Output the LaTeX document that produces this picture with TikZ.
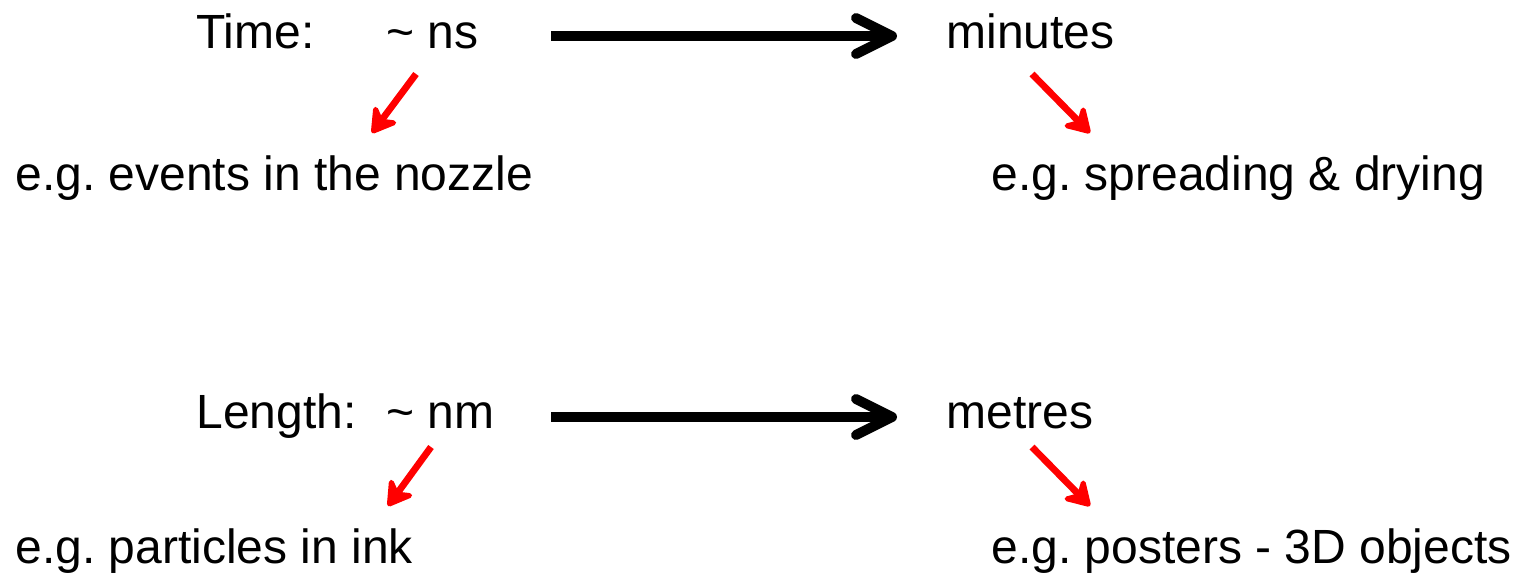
\documentclass[tikz,border=0pt]{standalone}
\usepackage{fontspec}
\setmainfont{Liberation Sans}
\usetikzlibrary{arrows.meta,calc}
\frenchspacing
\begin{document}
\begin{tikzpicture}[x=0.5pt,y=-0.5pt,
  lbl/.style={anchor=base west,inner sep=0pt,font=\fontsize{24}{28}\selectfont\frenchspacing},
  bigarrow/.style={line width=5pt,-{Straight Barb[round,length=18pt,width=18pt]}},
  redarrow/.style={red,line width=3.4pt,-{Stealth[round,length=15pt,width=18pt,inset=5pt]}}]
\useasboundingbox (0,0) rectangle (1518,573);
% row 1
\node[lbl] (time) at (196,48) {Time:};
\node[lbl] (ns) at (386,48) {\textasciitilde{} ns};
\node[lbl] (minutes) at (946,48) {minutes};
\node[lbl] (ev) at (15,190) {e.g. events in the nozzle};
\node[lbl] (sp) at (991,190) {e.g. spreading \& drying};
\draw[bigarrow] ($(ns.base west)+(165,-12)$) -- ($(minutes.base west)+(-49,-12)$);
\draw[redarrow] ($(ns.base west)+(30,26)$) -- ($(ev.base west)+(357,-57)$);
\draw[redarrow] ($(minutes.base west)+(86,26)$) -- ($(sp.base west)+(99,-57)$);
% row 2
\node[lbl] (length) at (196,428) {Length:};
\node[lbl] (nm) at (386,428) {\textasciitilde{} nm};
\node[lbl] (metres) at (946,428) {metres};
\node[lbl] (pa) at (15,563) {e.g. particles in ink};
\node[lbl] (po) at (991,563) {e.g. posters - 3D objects};
\draw[bigarrow] ($(nm.base west)+(165,-11)$) -- ($(metres.base west)+(-49,-11)$);
\draw[redarrow] ($(nm.base west)+(45,19)$) -- ($(pa.base west)+(373,-57)$);
\draw[redarrow] ($(metres.base west)+(86,19)$) -- ($(po.base west)+(99,-57)$);
\end{tikzpicture}
\end{document}
